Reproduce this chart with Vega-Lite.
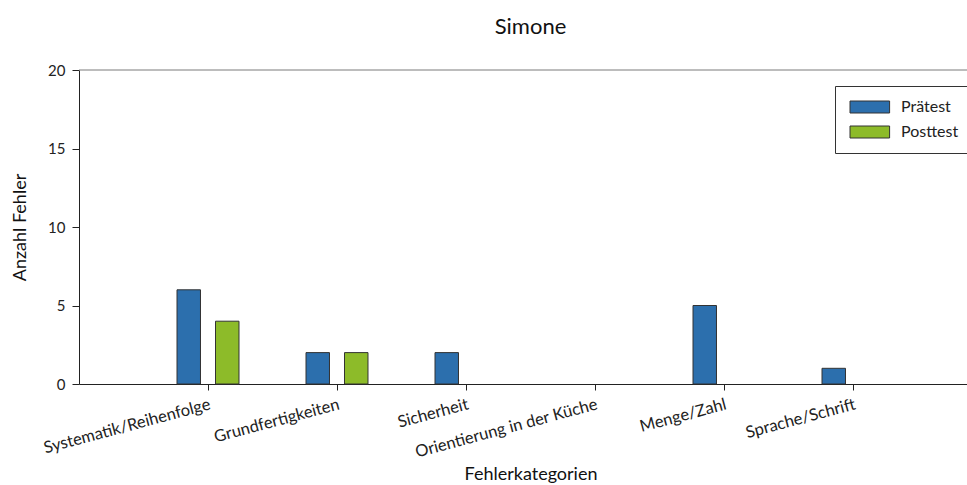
{
  "$schema": "https://vega.github.io/schema/vega-lite/v6.json",
  "autosize": {"type": "none"},
  "padding": {"left": 79, "top": 70, "right": 0, "bottom": 101},
  "width": 903,
  "height": 314,
  "background": "white",
  "title": {"text": "Simone", "fontSize": 22, "font": "Lato", "fontWeight": "normal", "color": "#111111", "anchor": "middle", "frame": "group", "baseline": "alphabetic", "offset": 7},
  "config": {"view": {"stroke": null}, "font": "Lato"},
  "layer": [
    {
      "data": {"values": [{"v": 20}]},
      "mark": {"type": "rule", "color": "#7a7a7a", "strokeWidth": 1},
      "encoding": {"y": {"field": "v", "type": "quantitative"}}
    },
    {
      "data": {"values": [
        {"kategorie": "Systematik/Reihenfolge", "test": "Prätest", "anzahl": 6},
        {"kategorie": "Systematik/Reihenfolge", "test": "Posttest", "anzahl": 4},
        {"kategorie": "Grundfertigkeiten", "test": "Prätest", "anzahl": 2},
        {"kategorie": "Grundfertigkeiten", "test": "Posttest", "anzahl": 2},
        {"kategorie": "Sicherheit", "test": "Prätest", "anzahl": 2},
        {"kategorie": "Sicherheit", "test": "Posttest", "anzahl": 0},
        {"kategorie": "Orientierung in der Küche", "test": "Prätest", "anzahl": 0},
        {"kategorie": "Orientierung in der Küche", "test": "Posttest", "anzahl": 0},
        {"kategorie": "Menge/Zahl", "test": "Prätest", "anzahl": 5},
        {"kategorie": "Menge/Zahl", "test": "Posttest", "anzahl": 0},
        {"kategorie": "Sprache/Schrift", "test": "Prätest", "anzahl": 1},
        {"kategorie": "Sprache/Schrift", "test": "Posttest", "anzahl": 0}
      ]},
      "transform": [{"filter": "datum.anzahl > 0"}],
      "mark": {"type": "bar", "stroke": "#333333", "strokeWidth": 1},
      "encoding": {
        "x": {
          "field": "kategorie", "type": "nominal", "sort": null,
          "scale": {"domain": ["Systematik/Reihenfolge", "Grundfertigkeiten", "Sicherheit", "Orientierung in der Küche", "Menge/Zahl", "Sprache/Schrift"], "paddingInner": 0, "paddingOuter": 0.5},
          "axis": {
            "title": "Fehlerkategorien", "titleFontSize": 18, "titleFontWeight": "normal", "titleFont": "Lato", "titleColor": "#111111",
            "titleY": 95, "titleBaseline": "alphabetic",
            "labelAngle": -15, "labelAlign": "right", "labelBaseline": "top", "labelPadding": 6,
            "labelFontSize": 16.5, "labelFont": "Lato", "labelColor": "#222222", "labelLimit": 400, "labelOverlap": false, "labelBound": false,
            "domainColor": "#222222", "tickColor": "#222222", "tickSize": 6, "grid": false
          }
        },
        "xOffset": {"field": "test", "type": "nominal", "scale": {"domain": ["Prätest", "Posttest"], "paddingInner": 0.39, "paddingOuter": 0.87}},
        "y": {
          "field": "anzahl", "type": "quantitative",
          "scale": {"domain": [0, 20], "nice": false},
          "axis": {
            "values": [0, 5, 10, 15, 20], "grid": false,
            "title": "Anzahl Fehler", "titleFontSize": 18, "titleFontWeight": "normal", "titleFont": "Lato", "titleColor": "#111111",
            "titleX": -59, "titleY": 157, "titleAlign": "center", "titleBaseline": "middle", "titleAngle": -90,
            "labelFontSize": 15, "labelFont": "Lato", "labelColor": "#222222", "labelPadding": 7,
            "domainColor": "#222222", "tickColor": "#222222", "tickSize": 7
          }
        },
        "color": {
          "field": "test", "type": "nominal",
          "scale": {"domain": ["Prätest", "Posttest"], "range": ["#2c6fad", "#8dbb29"]},
          "legend": {
            "title": null, "orient": "none", "legendX": 756, "legendY": 16,
            "strokeColor": "#333333", "fillColor": "white", "padding": 13,
            "symbolType": "M-1,-1H5.6V1H-1Z", "symbolSize": 144, "symbolStrokeColor": "#333333", "symbolStrokeWidth": 1, "symbolOpacity": 1,
            "labelOffset": 37, "rowPadding": 9, "labelFontSize": 16, "labelFont": "Lato", "labelColor": "#222222"
          }
        }
      }
    }
  ]
}
